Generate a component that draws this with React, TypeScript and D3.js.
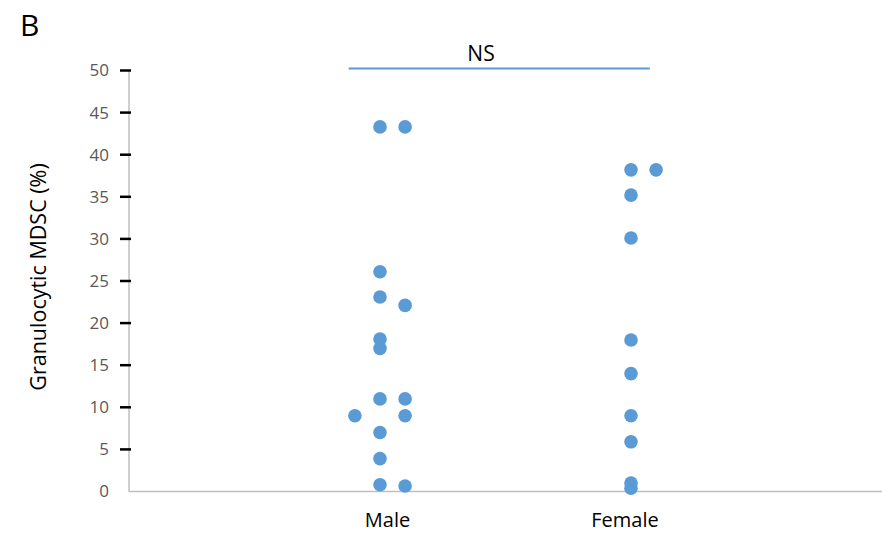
import React, { useEffect, useRef } from 'react';
import * as d3 from 'd3';

// category position (1 = Male, 2 = Female) with a small horizontal offset per dot
const categories = ['Male', 'Female'];
const categoryLabelPos = [1.03, 1.976];
const maleX = [1, 1.1, 1, 1, 1.1, 1, 1, 1, 1.1, 0.9, 1.1, 1, 1, 1, 1.1];
const maleY = [43.3, 43.3, 26.1, 23.1, 22.1, 18.1, 17.0, 11.0, 11.0, 9.0, 9.0, 7.0, 3.9, 0.8, 0.65];
const femaleX = [2, 2.1, 2, 2, 2, 2, 2, 2, 2, 2];
const femaleY = [38.2, 38.2, 35.2, 30.1, 18.0, 14.0, 9.0, 5.9, 1.0, 0.4];
const yTicks = [0, 5, 10, 15, 20, 25, 30, 35, 40, 45, 50];

const App = () => {
  const ref = useRef<SVGSVGElement>(null);

  useEffect(() => {
    document.body.style.margin = '0';
    const svg = d3.select(ref.current);
    svg.selectAll('*').remove();

    const font = '"Open Sans", Lato, sans-serif';
    const x = d3.scaleLinear().domain([0, 3]).range([129, 882]);
    const y = d3.scaleLinear().domain([0, 50]).range([491.5, 70.5]);

    // panel letter
    svg.append('text').attr('x', 20).attr('y', 36)
      .attr('font-family', font).attr('font-size', 30).attr('fill', '#000')
      .text('B');

    // y axis line
    svg.append('line')
      .attr('x1', x(0)).attr('x2', x(0))
      .attr('y1', y(50)).attr('y2', y(0))
      .attr('stroke', '#bfbfbf').attr('stroke-width', 1.5);

    // x axis line
    svg.append('line')
      .attr('x1', x(0)).attr('x2', x(3))
      .attr('y1', y(0)).attr('y2', y(0))
      .attr('stroke', '#bfbfbf').attr('stroke-width', 1.5);

    // ticks
    svg.selectAll('.tick').data(yTicks.filter(d => d > 0)).enter().append('line')
      .attr('x1', x(0) - 9).attr('x2', x(0) + 2)
      .attr('y1', d => y(d)).attr('y2', d => y(d))
      .attr('stroke', '#000').attr('stroke-width', 2.5);

    svg.selectAll('.ylab').data(yTicks).enter().append('text')
      .attr('x', 109).attr('y', d => y(d))
      .attr('dy', '0.35em').attr('text-anchor', 'end')
      .attr('font-family', font).attr('font-size', 17).attr('fill', '#595959')
      .text(d => d);

    svg.selectAll('.xlab').data(categories).enter().append('text')
      .attr('x', (d, i) => x(categoryLabelPos[i])).attr('y', 527)
      .attr('text-anchor', 'middle')
      .attr('font-family', font).attr('font-size', 20).attr('fill', '#000')
      .text(d => d);

    svg.append('text')
      .attr('transform', `translate(46,277) rotate(-90)`)
      .attr('text-anchor', 'middle')
      .attr('font-family', font).attr('font-size', 21.5).attr('fill', '#000')
      .text('Granulocytic MDSC (%)');

    // significance bar
    svg.append('line')
      .attr('x1', x(0.875)).attr('x2', x(2.075))
      .attr('y1', y(50) - 2).attr('y2', y(50) - 2)
      .attr('stroke', '#5b9bd5').attr('stroke-width', 2);
    svg.append('text')
      .attr('x', 481).attr('y', 61)
      .attr('text-anchor', 'middle')
      .attr('font-family', font).attr('font-size', 21).attr('fill', '#000')
      .text('NS');

    const pts = [
      ...maleX.map((v, i) => ({ x: v, y: maleY[i] })),
      ...femaleX.map((v, i) => ({ x: v, y: femaleY[i] })),
    ];
    svg.selectAll('.dot').data(pts).enter().append('circle')
      .attr('cx', d => x(d.x)).attr('cy', d => y(d.y))
      .attr('r', 6.8).attr('fill', '#5b9bd5');
  }, []);

  return <svg ref={ref} width={882} height={533}></svg>;
};

export default App;
